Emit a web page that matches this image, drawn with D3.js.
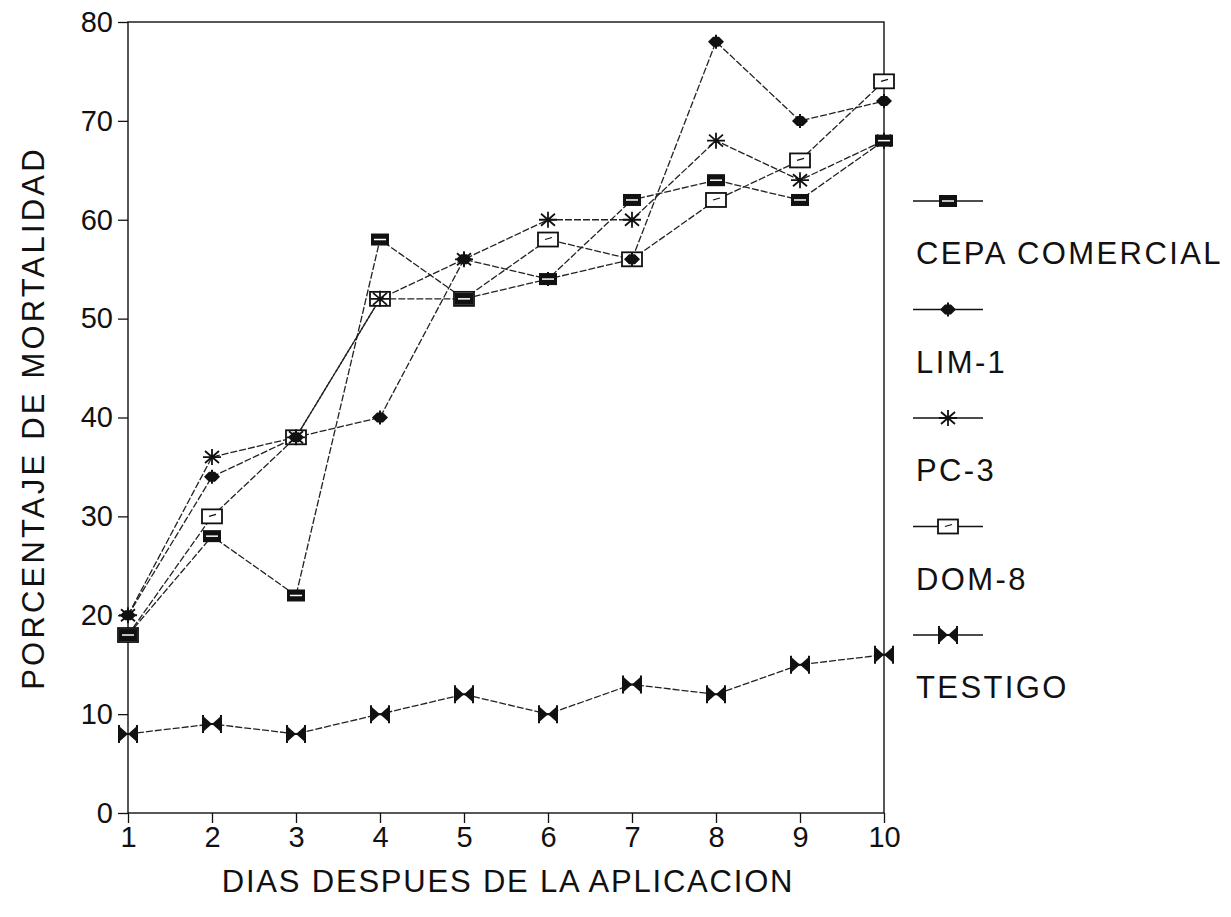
<!DOCTYPE html>
<html>
<head>
<meta charset="utf-8">
<script src="https://cdn.jsdelivr.net/npm/d3@7"></script>
<style>
	body { margin: 0; background: #fff; }
	svg { font-family: "Liberation Sans", Arial, sans-serif; }
</style>
</head>
<body>
<svg id="chart" width="1231" height="917"></svg>
<script>
// === Data ===
const days = [1, 2, 3, 4, 5, 6, 7, 8, 9, 10];
const seriesNames = ['CEPA COMERCIAL', 'LIM-1', 'PC-3', 'DOM-8', 'TESTIGO'];
const cepaComercial = [18, 28, 22, 58, 52, 54, 62, 64, 62, 68];
const lim1 = [20, 34, 38, 40, 56, 54, 56, 78, 70, 72];
const pc3 = [20, 36, 38, 52, 56, 60, 60, 68, 64, 68];
const dom8 = [18, 30, 38, 52, 52, 58, 56, 62, 66, 74];
const testigo = [8, 9, 8, 10, 12, 10, 13, 12, 15, 16];
const yTicks = [0, 10, 20, 30, 40, 50, 60, 70, 80];

const seriesValues = [cepaComercial, lim1, pc3, dom8, testigo];
const markerKinds = ['cepa', 'lim', 'pc', 'dom', 'testigo'];
// draw open squares first so filled marks sit on top where they overlap
const drawOrder = [3, 2, 1, 0, 4];

const svg = d3.select('#chart');
const margins = {top: 22, right: 347, bottom: 104, left: 128};
const innerW = 1231 - margins.left - margins.right;
const innerH = 917 - margins.top - margins.bottom;

const x = d3.scaleLinear().domain([1, 10]).range([0, innerW]);
const y = d3.scaleLinear().domain([0, 80]).range([innerH, 0]);

const g = svg.append('g').attr('transform', `translate(${margins.left},${margins.top})`);

// Frame
g.append('rect')
	.attr('width', innerW).attr('height', innerH)
	.attr('fill', 'none').attr('stroke', '#111').attr('stroke-width', 1.4);

// X axis
const xAxisG = g.append('g').attr('class', 'x-axis')
	.attr('transform', `translate(0,${innerH})`)
	.call(d3.axisBottom(x).tickValues(days).tickSize(10).tickPadding(3).tickFormat(d3.format('d')));

// Y axis
const yAxisG = g.append('g').attr('class', 'y-axis')
	.call(d3.axisLeft(y).tickValues(yTicks).tickSize(10).tickPadding(5));

[xAxisG, yAxisG].forEach(ax => {
	ax.select('.domain').remove();
	ax.selectAll('line').attr('stroke', '#111').attr('stroke-width', 1.3);
	ax.selectAll('text')
		.attr('fill', '#111')
		.style('font-size', '29px')
		.style('font-family', '"Liberation Sans", Arial, sans-serif');
});

// X axis label
svg.append('text')
	.attr('x', margins.left + innerW / 2 + 2)
	.attr('y', 892)
	.attr('text-anchor', 'middle')
	.style('font-size', '31px')
	.style('letter-spacing', '1.8px')
	.attr('fill', '#111')
	.text('DIAS DESPUES DE LA APLICACION');

// Y axis label
svg.append('text')
	.attr('transform', 'rotate(-90)')
	.attr('x', -418)
	.attr('y', 44)
	.attr('text-anchor', 'middle')
	.style('font-size', '31px')
	.style('letter-spacing', '3.2px')
	.attr('fill', '#111')
	.text('PORCENTAJE DE MORTALIDAD');

// Marker shapes, drawn around (0,0)
function drawMarker(sel, kind) {
	if (kind === 'cepa') {
		sel.append('rect').attr('x', -9).attr('y', -6).attr('width', 18).attr('height', 12).attr('fill', '#111');
		sel.append('line').attr('x1', -6).attr('x2', 6).attr('y1', 0).attr('y2', 0).attr('stroke', '#fff').attr('stroke-width', 1.5);
	} else if (kind === 'lim') {
		sel.append('path').attr('d', 'M-8,0 L-3,-5 L3,-5 L8,0 L3,5 L-3,5 Z').attr('fill', '#111');
		sel.append('line').attr('x1', 0).attr('x2', 0).attr('y1', -7).attr('y2', 7).attr('stroke', '#111').attr('stroke-width', 2);
	} else if (kind === 'pc') {
		sel.append('path')
			.attr('d', 'M-9,0 L9,0 M0,-8 L0,8 M-7,-6 L7,6 M-7,6 L7,-6')
			.attr('stroke', '#111').attr('stroke-width', 1.8).attr('fill', 'none');
	} else if (kind === 'dom') {
		sel.append('rect').attr('x', -10).attr('y', -7).attr('width', 20).attr('height', 14)
			.attr('fill', '#fff').attr('stroke', '#111').attr('stroke-width', 1.8);
		sel.append('line').attr('x1', -3).attr('x2', 4).attr('y1', 0).attr('y2', -2).attr('stroke', '#111').attr('stroke-width', 1.2);
	} else {
		sel.append('path').attr('d', 'M-9,-8 L0,0 L-9,8 Z M9,-8 L0,0 L9,8 Z').attr('fill', '#111');
		sel.append('path').attr('d', 'M-9,-9 L-9,9 M9,-9 L9,9 M-9,0 L9,0')
			.attr('stroke', '#111').attr('stroke-width', 2);
	}
}

// Lines
const line = d3.line().x((d, i) => x(days[i])).y(d => y(d));
g.append('g').attr('class', 'lines')
	.selectAll('path').data(seriesValues).join('path')
	.attr('d', d => line(d))
	.attr('fill', 'none')
	.attr('stroke', '#222')
	.attr('stroke-width', 1.3)
	.attr('stroke-dasharray', '7,2');

// Points
drawOrder.forEach(s => {
	g.append('g').attr('class', `marks-${markerKinds[s]}`)
		.selectAll('g').data(seriesValues[s]).join('g')
		.attr('transform', (d, i) => `translate(${x(days[i])},${y(d)})`)
		.each(function () { drawMarker(d3.select(this), markerKinds[s]); });
});

// Legend
const legend = svg.append('g').attr('class', 'legend').attr('transform', 'translate(913,201)');
const legendItems = legend.selectAll('g').data(seriesNames).join('g')
	.attr('transform', (d, i) => `translate(0,${i * 108.5})`);
legendItems.append('line')
	.attr('x1', 0).attr('x2', 70).attr('y1', 0).attr('y2', 0)
	.attr('stroke', '#111').attr('stroke-width', 1.3);
legendItems.each(function (d, i) {
	const m = d3.select(this).append('g').attr('transform', 'translate(35,0)');
	drawMarker(m, markerKinds[i]);
});
legendItems.append('text')
	.attr('x', 3).attr('y', 63)
	.style('font-size', '31px')
	.style('letter-spacing', '2.4px')
	.attr('fill', '#111')
	.text(d => d);
</script>
</body>
</html>
